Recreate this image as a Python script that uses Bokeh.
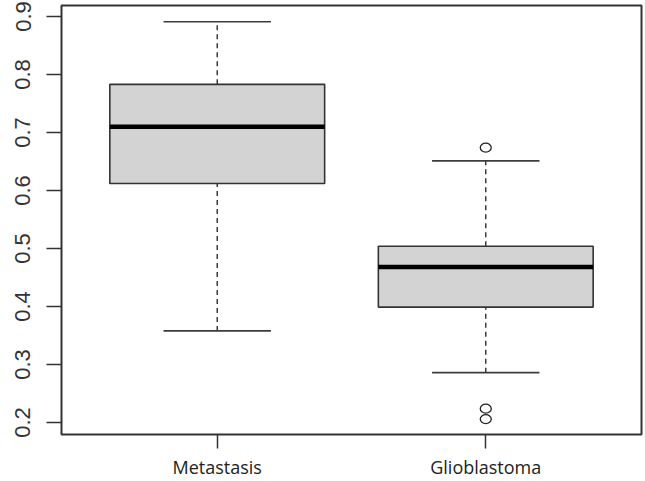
from bokeh.plotting import figure
from bokeh.models import Range1d, FixedTicker, ColumnDataSource
from bokeh.embed import file_html
from bokeh.resources import INLINE

# ---- data ----
categories = ["Metastasis", "Glioblastoma"]
positions = [1, 2]
q1 = [0.612, 0.399]
median = [0.710, 0.468]
q3 = [0.783, 0.504]
lower_whisker = [0.358, 0.286]
upper_whisker = [0.891, 0.651]
outlier_pos = [2, 2, 2]
outlier_values = [0.674, 0.224, 0.206]
y_ticks = [0.2, 0.3, 0.4, 0.5, 0.6, 0.7, 0.8, 0.9]

box_width = 0.8
cap_width = 0.4

src = ColumnDataSource(dict(
    x=positions,
    q1=q1, q3=q3, med=median, lo=lower_whisker, hi=upper_whisker,
    bx0=[p - box_width / 2 for p in positions],
    bx1=[p + box_width / 2 for p in positions],
    cx0=[p - cap_width / 2 for p in positions],
    cx1=[p + cap_width / 2 for p in positions],
))

p = figure(width=645, height=481, output_backend="svg", toolbar_location=None,
           x_range=Range1d(0.42, 2.58), y_range=Range1d(0.1794, 0.9189),
           min_border_left=61, min_border_right=4, min_border_top=5, min_border_bottom=45)

p.grid.visible = False
p.outline_line_color = "#333333"
p.outline_line_width = 2

# whiskers (dashed)
p.segment(x0="x", y0="q3", x1="x", y1="hi", source=src, line_color="#3c3c3c",
          line_width=1.5, line_dash="5 4")
p.segment(x0="x", y0="lo", x1="x", y1="q1", source=src, line_color="#3c3c3c",
          line_width=1.5, line_dash="5 4")
# caps
p.segment(x0="cx0", y0="hi", x1="cx1", y1="hi", source=src, line_color="#3c3c3c", line_width=1.6)
p.segment(x0="cx0", y0="lo", x1="cx1", y1="lo", source=src, line_color="#3c3c3c", line_width=1.6)
# boxes
p.vbar(x="x", width=box_width, bottom="q1", top="q3", source=src,
       fill_color="#d3d3d3", line_color="#333333", line_width=1.6)
# medians
p.segment(x0="bx0", y0="med", x1="bx1", y1="med", source=src, line_color="#000000", line_width=4.5)
# outliers
p.ellipse(x=outlier_pos, y=outlier_values, width=11, height=9, width_units="screen",
          height_units="screen", fill_color=None, line_color="#222222", line_width=1.3)

# x axis
xa = p.xaxis[0]
xa.ticker = FixedTicker(ticks=positions)
xa.major_label_overrides = {pos: lab for pos, lab in zip(positions, categories)}
xa.axis_line_color = None
xa.major_tick_out = 14
xa.major_tick_in = 0
xa.major_tick_line_color = "#333333"
xa.major_tick_line_width = 1.5
xa.minor_tick_line_color = None
xa.major_label_text_font = "Open Sans"
xa.major_label_text_font_size = "18px"
xa.major_label_text_color = "#222222"
xa.major_label_standoff = 6

# y axis
ya = p.yaxis[0]
ya.ticker = FixedTicker(ticks=y_ticks)
ya.axis_line_color = None
ya.major_tick_out = 15
ya.major_tick_in = 0
ya.major_tick_line_color = "#333333"
ya.major_tick_line_width = 1.5
ya.minor_tick_line_color = None
ya.major_label_orientation = "vertical"
ya.major_label_text_font = "Liberation Sans"
ya.major_label_text_font_size = "22px"
ya.major_label_text_color = "#333333"
ya.major_label_standoff = 16

open("out.html", "w").write(file_html(p, INLINE))
